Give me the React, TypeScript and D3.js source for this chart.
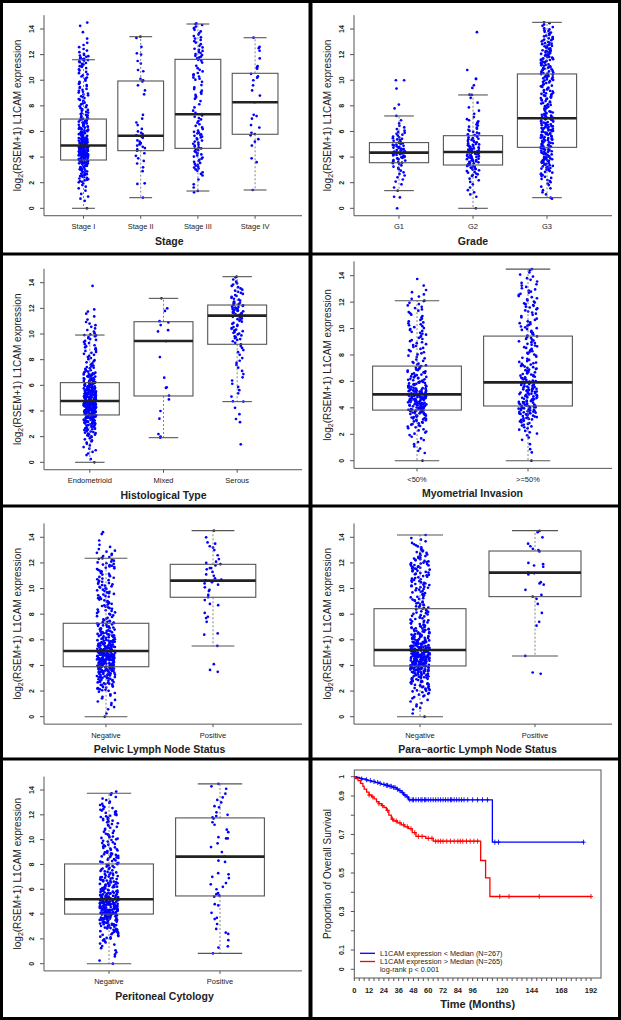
import React from "react";
import * as d3 from "d3";

const FONT = "Liberation Sans, Arial, Helvetica, sans-serif";

// ---------- DATA ----------
const stageCats = ["Stage I", "Stage II", "Stage III", "Stage IV"];
const stageStats = [
  [0, 3.77, 4.9, 6.97, 11.6],
  [0.83, 4.5, 5.67, 9.94, 13.4],
  [1.35, 4.68, 7.34, 11.63, 14.39],
  [1.43, 5.78, 8.28, 10.54, 13.32],
];
const stageBins = [
  [0, 3, 2, 4, 10, 14, 18, 28, 38, 42, 28, 20, 16, 14, 9, 7, 7, 7, 7, 6, 6, 5, 8, 10, 4, 3, 1, 1, 1, 0],
  [],
  [0, 0, 1, 2, 1, 4, 7, 6, 6, 7, 6, 8, 4, 4, 5, 2, 2, 5, 4, 2, 6, 4, 2, 8, 6, 4, 5, 4, 4, 0],
  [],
];
const stageExtra = [
  [0, 14.5],
  [0.83, 1.9, 1.95, 2.9, 3.2, 3.5, 3.7, 3.9, 4.1, 4.3, 4.5, 4.6, 4.7, 4.8, 4.9, 5.0, 5.0, 5.1, 5.2, 5.3, 5.5, 5.6, 5.7, 5.8, 5.9, 6.0, 6.2, 6.5, 6.7, 7.0, 7.3, 8.9, 9.2, 9.6, 9.9, 10.0, 10.1, 10.7, 10.8, 11.3, 11.5, 12.0, 12.1, 12.6, 13.3, 13.4],
  [1.35, 14.39],
  [1.43, 3.6, 3.9, 4.9, 5.2, 5.4, 5.7, 5.8, 5.9, 6.3, 6.5, 7.0, 7.2, 7.3, 8.28, 8.8, 9.2, 9.6, 10.0, 10.2, 10.3, 10.5, 10.9, 11.0, 11.1, 11.7, 12.3, 12.5, 12.6, 13.32],
];

const gradeCats = ["G1", "G2", "G3"];
const gradeStats = [
  [1.38, 3.56, 4.35, 5.13, 7.21],
  [0, 3.38, 4.4, 5.67, 8.85],
  [0.83, 4.76, 7.03, 10.49, 14.52],
];
const gradeBins = [
  [0, 0, 0, 2, 3, 4, 5, 12, 17, 14, 10, 7, 4, 2, 0, 0, 0, 0, 0, 0, 0, 0, 0, 0, 0, 0, 0, 0, 0, 0],
  [0, 0, 3, 2, 4, 8, 12, 14, 17, 16, 11, 8, 6, 6, 2, 2, 1, 2, 0, 0, 0, 0, 0, 0, 0, 0, 0, 0, 0, 0],
  [0, 1, 3, 4, 6, 8, 12, 16, 16, 17, 16, 15, 16, 14, 14, 10, 10, 12, 10, 10, 12, 12, 14, 16, 14, 12, 10, 8, 5, 0],
];
const gradeExtra = [
  [0, 0.85, 0.9, 1.38, 7.21, 7.8, 8.1, 9.35, 10.0, 10.0],
  [0, 0.9, 8.85, 9.4, 9.6, 10.1, 10.1, 10.8, 13.75],
  [0.83, 14.52],
];

const histCats = ["Endometrioid", "Mixed", "Serous"];
const histStats = [
  [0, 3.69, 4.78, 6.21, 9.92],
  [1.92, 5.17, 9.45, 10.96, 12.78],
  [4.73, 9.2, 11.43, 12.26, 14.47],
];
const histBins = [
  [1, 4, 4, 6, 12, 16, 25, 40, 56, 46, 36, 28, 22, 18, 10, 6, 6, 7, 6, 7, 4, 4, 2, 3, 0, 0, 0, 0, 0, 0],
  [],
  [0, 0, 0, 0, 0, 0, 2, 1, 1, 1, 2, 2, 2, 2, 2, 3, 2, 3, 4, 7, 8, 6, 8, 14, 12, 7, 6, 5, 3, 0],
];
const histExtra = [
  [0, 9.92, 13.75],
  [1.92, 2.0, 2.2, 3.4, 4.0, 4.9, 5.2, 5.8, 5.85, 6.6, 8.2, 9.45, 10.2, 10.3, 10.7, 10.9, 11.0, 11.8, 12.0, 12.78],
  [1.4, 4.73, 14.47],
];

const myoCats = ["<50%", ">=50%"];
const myoStats = [
  [0, 3.83, 5.02, 7.16, 12.11],
  [0, 4.14, 5.93, 9.43, 14.5],
];
const myoBins = [
  [0, 3, 3, 4, 6, 10, 14, 22, 28, 36, 26, 18, 14, 12, 8, 5, 6, 7, 6, 7, 7, 5, 5, 5, 3, 3, 1, 1, 0, 0],
  [0, 2, 1, 3, 5, 8, 14, 20, 20, 18, 18, 16, 12, 12, 10, 6, 8, 8, 8, 7, 8, 5, 6, 8, 6, 6, 5, 4, 3, 0],
];
const myoExtra = [
  [0, 12.11],
  [0, 14.5],
];

const pelvicCats = ["Negative", "Positive"];
const pelvicStats = [
  [0, 3.9, 5.13, 7.29, 12.36],
  [5.52, 9.32, 10.62, 11.89, 14.52],
];
const pelvicBins = [
  [1, 3, 4, 5, 12, 16, 24, 34, 44, 46, 38, 28, 18, 16, 14, 8, 9, 9, 9, 9, 10, 8, 8, 10, 7, 6, 3, 1, 1, 0],
  [],
];
const pelvicExtra = [
  [0, 12.36, 14.4],
  [3.5, 3.65, 4.1, 5.52, 6.4, 6.5, 7.4, 7.7, 7.8, 8.1, 8.7, 8.8, 9.1, 9.32, 9.5, 9.8, 9.9, 10.1, 10.3, 10.4, 10.5, 10.6, 10.62, 10.7, 10.8, 11.0, 11.1, 11.3, 11.5, 11.6, 11.6, 11.8, 11.9, 12.0, 12.1, 12.3, 12.6, 13.0, 13.2, 13.3, 13.5, 13.6, 14.0, 14.52],
];

const paraCats = ["Negative", "Positive"];
const paraStats = [
  [0, 3.96, 5.2, 8.43, 14.18],
  [4.74, 9.37, 11.24, 12.93, 14.52],
];
const paraBins = [
  [1, 4, 4, 8, 14, 16, 22, 38, 44, 44, 40, 28, 20, 18, 12, 10, 10, 11, 9, 9, 12, 10, 11, 14, 11, 8, 6, 4, 0, 0],
  [],
];
const paraExtra = [
  [0, 14.18],
  [3.35, 3.45, 4.74, 7.1, 7.4, 8.1, 8.8, 9.2, 9.37, 9.5, 9.9, 10.3, 10.4, 10.5, 11.1, 11.2, 11.24, 11.7, 11.8, 11.9, 12.0, 12.9, 13.0, 13.1, 13.3, 13.5, 14.0, 14.4, 14.5],
];

const peritCats = ["Negative", "Positive"];
const peritStats = [
  [0, 4.0, 5.19, 8.04, 13.74],
  [0.83, 5.46, 8.63, 11.75, 14.49],
];
const peritBins = [
  [1, 3, 3, 6, 10, 14, 20, 30, 40, 44, 34, 22, 18, 16, 12, 10, 10, 12, 10, 8, 9, 6, 7, 10, 8, 6, 4, 2, 0, 0],
  [],
];
const peritExtra = [
  [0, 13.74],
  [0.83, 1.3, 1.4, 1.9, 2.4, 2.5, 2.8, 3.2, 3.6, 3.7, 4.1, 4.7, 4.8, 5.4, 5.5, 5.6, 5.7, 6.0, 6.2, 6.4, 6.5, 6.9, 7.0, 7.2, 7.3, 8.2, 8.3, 8.63, 9.0, 9.4, 9.7, 10.1, 10.1, 10.2, 10.6, 10.8, 11.2, 11.4, 11.7, 11.8, 11.9, 12.0, 12.2, 12.6, 12.7, 13.0, 13.2, 13.4, 13.7, 14.1, 14.3, 14.5],
];

const yTicks = [0, 2, 4, 6, 8, 10, 12, 14];

// survival
const lowTimes = [2, 4, 6, 9, 11, 14, 17, 20, 22, 25, 28, 31, 34, 36, 38, 40, 42, 44, 112];
const lowSurv = [0.996, 0.992, 0.988, 0.984, 0.98, 0.975, 0.97, 0.965, 0.96, 0.955, 0.95, 0.944, 0.935, 0.928, 0.918, 0.905, 0.895, 0.88, 0.66];
const lowEnd = 186;
const lowCensor = [6, 10, 13, 16, 19, 21, 24, 26, 27, 29, 30, 32, 33, 35, 37, 39, 41, 43, 45, 47, 48, 50, 52, 54, 55, 57, 58, 60, 62, 64, 66, 68, 70, 72, 74, 76, 78, 79, 81, 83, 85, 87, 89, 92, 96, 100, 104, 108, 114, 117, 186];
const highTimes = [1, 3, 5, 7, 8, 10, 12, 14, 16, 18, 20, 22, 24, 26, 28, 30, 32, 35, 38, 41, 44, 47, 50, 58, 64, 102.5, 106.5, 110];
const highSurv = [0.99, 0.98, 0.965, 0.95, 0.935, 0.92, 0.905, 0.895, 0.885, 0.87, 0.86, 0.85, 0.84, 0.825, 0.8, 0.78, 0.77, 0.76, 0.75, 0.74, 0.73, 0.71, 0.69, 0.68, 0.665, 0.565, 0.475, 0.378];
const highEnd = 192;
const highCensor = [12, 15, 20, 23, 27, 31, 34, 37, 40, 43, 46, 49, 52, 55, 60, 63, 66, 68, 70, 72, 75, 78, 81, 84, 86, 88, 91, 94, 97, 100, 118, 125.5, 150, 192];
const survYTicks = [0, 0.1, 0.2, 0.3, 0.4, 0.5, 0.6, 0.7, 0.8, 0.9, 1];
const survYLabels = [0, 0.1, 0.3, 0.5, 0.7, 0.9, 1];
const survXTicks = d3.range(0, 193, 4);
const survXLabels = [0, 12, 24, 36, 48, 60, 72, 84, 96, 120, 144, 168, 192];
const legendLabels = [
  "L1CAM expression < Median (N=267)",
  "L1CAM expression > Median (N=265)",
  "log-rank p < 0.001",
];

// ---------- HELPERS ----------
function expand(bins: number[], extra: number[]) {
  const vals: number[] = [...extra];
  bins.forEach((n, i) => {
    for (let k = 0; k < n; k++) vals.push(i * 0.5 + ((k + 0.5) / n) * 0.5);
  });
  return vals;
}
function jit(i: number, g: number) {
  const s = Math.sin(i * 12.9898 + g * 78.233 + 1.7) * 43758.5453;
  return (s - Math.floor(s)) * 2 - 1;
}

type BoxProps = {
  ox: number; oy: number; cats: string[]; stats: number[][]; bins: number[][]; extras: number[][];
  xr: [number, number]; y0: number; y14: number; title: string; seed: number;
};

function BoxPanel(p: BoxProps) {
  const n = p.cats.length;
  const y = d3.scaleLinear().domain([0, 14]).range([p.y0, p.y14]);
  const x = d3.scaleLinear().domain([0.5, n + 0.5]).range(p.xr);
  const unit = (p.xr[1] - p.xr[0]) / n;
  const axisY = y(-0.58);
  const top = y(15.08);
  const axisX = 44;
  const xMid = (p.xr[0] + p.xr[1]) / 2;
  return (
    <g transform={`translate(${p.ox},${p.oy})`}>
      {/* points */}
      {p.cats.map((c, gi) => {
        const vals = expand(p.bins[gi] || [], p.extras[gi] || []);
        return vals.map((v, i) => (
          <circle key={c + i} cx={x(gi + 1) + jit(i, gi + p.seed) * 0.085 * unit} cy={y(v)} r={1.35} fill="#0000ff" />
        ));
      })}
      {/* boxes */}
      {p.stats.map((s, gi) => {
        const cx = x(gi + 1);
        const hw = 0.4 * unit;
        const sw = 0.2 * unit;
        return (
          <g key={gi}>
            <line x1={cx} x2={cx} y1={y(s[3])} y2={y(s[4])} stroke="#666" strokeWidth={0.8} strokeDasharray="2,2" />
            <line x1={cx} x2={cx} y1={y(s[1])} y2={y(s[0])} stroke="#666" strokeWidth={0.8} strokeDasharray="2,2" />
            <line x1={cx - sw} x2={cx + sw} y1={y(s[4])} y2={y(s[4])} stroke="#555" strokeWidth={1.1} />
            <line x1={cx - sw} x2={cx + sw} y1={y(s[0])} y2={y(s[0])} stroke="#555" strokeWidth={1.1} />
            <rect x={cx - hw} y={y(s[3])} width={2 * hw} height={y(s[1]) - y(s[3])} fill="none" stroke="#555" strokeWidth={1.1} />
            <line x1={cx - hw} x2={cx + hw} y1={y(s[2])} y2={y(s[2])} stroke="#222" strokeWidth={2.6} />
          </g>
        );
      })}
      {/* axes */}
      <line x1={axisX} x2={axisX} y1={top} y2={axisY} stroke="#555" strokeWidth={1} />
      <line x1={axisX} x2={302} y1={axisY} y2={axisY} stroke="#555" strokeWidth={1} />
      {yTicks.map((t) => (
        <g key={t}>
          <line x1={axisX - 4} x2={axisX} y1={y(t)} y2={y(t)} stroke="#555" strokeWidth={1} />
          <text transform={`translate(34,${y(t)}) rotate(-90)`} textAnchor="middle" fontSize={7} fontFamily={FONT} fill="#222" fontWeight="bold">{t}</text>
        </g>
      ))}
      {p.cats.map((c, gi) => (
        <g key={c}>
          <line x1={x(gi + 1)} x2={x(gi + 1)} y1={axisY} y2={axisY + 3} stroke="#555" strokeWidth={1} />
          <text x={x(gi + 1)} y={axisY + 13.5} textAnchor="middle" fontSize={7.5} fontFamily={FONT} fill="#222">{c}</text>
        </g>
      ))}
      <text x={xMid} y={axisY + 29} textAnchor="middle" fontSize={10.5} fontWeight="bold" fontFamily={FONT} fill="#222">{p.title}</text>
      <text transform={`translate(20.5,${(top + axisY) / 2}) rotate(-90)`} textAnchor="middle" fontSize={10} fontFamily={FONT} fill="#222">
        log<tspan fontSize={7} dy={2}>2</tspan><tspan dy={-2}>(RSEM+1) L1CAM expression</tspan>
      </text>
    </g>
  );
}

function SurvPanel({ ox, oy }: { ox: number; oy: number }) {
  const x = d3.scaleLinear().domain([0, 192]).range([44.3, 281]);
  const y = d3.scaleLinear().domain([0, 1]).range([209.3, 16.7]);
  const left = 44.3, right = 291, top = 10, bottom = 218;
  const stepLine = d3.line<[number, number]>().x((d) => x(d[0])).y((d) => y(d[1])).curve(d3.curveStepAfter);
  const mk = (times: number[], surv: number[], end: number): [number, number][] => {
    const pts: [number, number][] = [[0, 1]];
    times.forEach((t, i) => pts.push([t, surv[i]]));
    pts.push([end, surv[surv.length - 1]]);
    return pts;
  };
  const at = (times: number[], surv: number[], t: number) => {
    let s = 1;
    times.forEach((tt, i) => { if (tt <= t) s = surv[i]; });
    return s;
  };
  const groups = [
    { times: lowTimes, surv: lowSurv, end: lowEnd, cens: lowCensor, color: "#0000ff" },
    { times: highTimes, surv: highSurv, end: highEnd, cens: highCensor, color: "#ff0000" },
  ];
  return (
    <g transform={`translate(${ox},${oy})`}>
      <rect x={left} y={top} width={right - left} height={bottom - top} fill="none" stroke="#555" strokeWidth={1} />
      {groups.map((g, gi) => (
        <g key={gi}>
          <path d={stepLine(mk(g.times, g.surv, g.end)) || ""} fill="none" stroke={g.color} strokeWidth={1.3} />
          {g.cens.map((t, i) => {
            const cx = x(t), cy = y(at(g.times, g.surv, t));
            return (
              <g key={i} stroke={g.color} strokeWidth={0.9}>
                <line x1={cx - 2} x2={cx + 2} y1={cy} y2={cy} />
                <line x1={cx} x2={cx} y1={cy - 2.5} y2={cy + 2.5} />
              </g>
            );
          })}
        </g>
      ))}
      {survYTicks.map((t) => (
        <line key={t} x1={left - 3.5} x2={left} y1={y(t)} y2={y(t)} stroke="#555" strokeWidth={1} />
      ))}
      {survYLabels.map((t) => (
        <text key={t} transform={`translate(34,${y(t)}) rotate(-90)`} textAnchor="middle" fontSize={7} fontWeight="bold" fontFamily={FONT} fill="#222">{t}</text>
      ))}
      {survXTicks.map((t) => (
        <line key={t} x1={x(t)} x2={x(t)} y1={bottom} y2={bottom + 3} stroke="#555" strokeWidth={1} />
      ))}
      {survXLabels.map((t) => (
        <text key={t} x={x(t)} y={bottom + 14.5} textAnchor="middle" fontSize={7.5} fontWeight="bold" fontFamily={FONT} fill="#222">{t}</text>
      ))}
      <text x={(left + right) / 2} y={bottom + 30} textAnchor="middle" fontSize={11} fontWeight="bold" fontFamily={FONT} fill="#222">Time (Months)</text>
      <text transform={`translate(20.5,${(top + bottom) / 2}) rotate(-90)`} textAnchor="middle" fontSize={10} fontFamily={FONT} fill="#222">Proportion of Overall Survival</text>
      {legendLabels.map((l, i) => (
        <g key={l}>
          {i < 2 && <line x1={50} x2={65} y1={193.3 + i * 8.2} y2={193.3 + i * 8.2} stroke={groups[i].color} strokeWidth={1.3} />}
          <text x={70} y={193.3 + i * 8.2 + 2.6} fontSize={7.3} fontFamily={FONT} fill="#222">{l}</text>
        </g>
      ))}
    </g>
  );
}

export default function App() {
  return (
    <div style={{ position: "absolute", left: 0, top: 0 }}>
      <svg width={621} height={1020} style={{ display: "block", background: "#fff" }}>
        <rect x={0} y={0} width={621} height={1020} fill="#fff" />
        <BoxPanel ox={0} oy={0} cats={stageCats} stats={stageStats} bins={stageBins} extras={stageExtra} xr={[54.9, 283.7]} y0={208.3} y14={29} title="Stage" seed={1} />
        <BoxPanel ox={310} oy={0} cats={gradeCats} stats={gradeStats} bins={gradeBins} extras={gradeExtra} xr={[52, 274]} y0={208.3} y14={29} title="Grade" seed={7} />
        <BoxPanel ox={0} oy={255} cats={histCats} stats={histStats} bins={histBins} extras={histExtra} xr={[53, 274]} y0={207.3} y14={27.7} title="Histological Type" seed={13} />
        <BoxPanel ox={310} oy={255} cats={myoCats} stats={myoStats} bins={myoBins} extras={myoExtra} xr={[51.5, 273.5]} y0={205.7} y14={20.7} title="Myometrial Invasion" seed={19} />
        <BoxPanel ox={0} oy={510} cats={pelvicCats} stats={pelvicStats} bins={pelvicBins} extras={pelvicExtra} xr={[52.5, 266.5]} y0={206.7} y14={27.3} title="Pelvic Lymph Node Status" seed={23} />
        <BoxPanel ox={310} oy={510} cats={paraCats} stats={paraStats} bins={paraBins} extras={paraExtra} xr={[52.5, 282.5]} y0={206.7} y14={27.3} title="Para−aortic Lymph Node Status" seed={29} />
        <BoxPanel ox={0} oy={760} cats={peritCats} stats={peritStats} bins={peritBins} extras={peritExtra} xr={[53.5, 275.5]} y0={203.7} y14={30} title="Peritoneal Cytology" seed={31} />
        <SurvPanel ox={310} oy={760} />
        {/* panel borders */}
        <rect x={1.5} y={1.5} width={618} height={1017} fill="none" stroke="#000" strokeWidth={3} />
        <line x1={310.5} x2={310.5} y1={0} y2={1020} stroke="#000" strokeWidth={4} />
        <line x1={0} x2={621} y1={254} y2={254} stroke="#000" strokeWidth={3} />
        <line x1={0} x2={621} y1={506} y2={506} stroke="#000" strokeWidth={3} />
        <line x1={0} x2={621} y1={759} y2={759} stroke="#000" strokeWidth={3} />
      </svg>
    </div>
  );
}
